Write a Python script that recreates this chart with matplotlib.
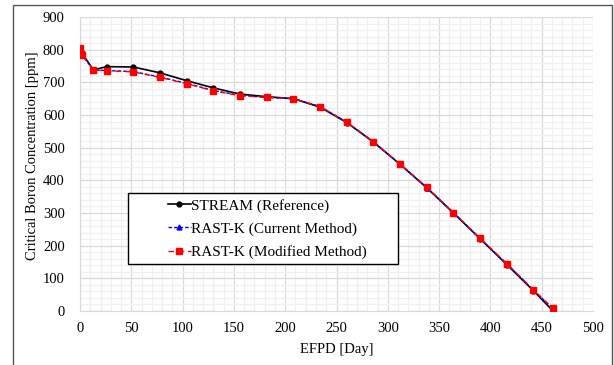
import numpy as np
import matplotlib.pyplot as plt
from matplotlib.patches import Rectangle
from matplotlib.ticker import MultipleLocator

plt.rcParams['font.family'] = ['Liberation Serif', 'DejaVu Serif']

# EFPD [day]
efpd = [0, 2, 13, 26, 52, 78, 104, 130, 156, 182, 208, 234, 260, 286, 312,
        338, 364, 390, 416, 442, 461]

# critical boron [ppm]
stream = [806, 789, 738, 748, 747, 729, 705, 683, 664, 656, 650, 624, 577,
          517, 449, 377, 300, 221, 142, 62, 0]
rast_current = [804, 784, 738, 736, 733, 716, 697, 675, 660, 654, 650, 626,
                578, 518, 449, 378, 301, 222, 144, 64, 6]
rast_modified = [806, 784, 738, 735, 732, 715, 696, 674, 659, 654, 650, 626,
                 578, 518, 450, 379, 301, 223, 145, 65, 8]

W, H = 614, 365
fig = plt.figure(figsize=(W / 100, H / 100), dpi=100)
ax = fig.add_axes([80 / W, (H - 311) / H, 513 / W, 294 / H])

ax.plot(efpd, stream, '-', color='black', lw=1.2, marker='o', ms=3.5,
        label='STREAM (Reference)', zorder=3)
ax.plot(efpd, rast_current, '--', color='blue', lw=1.0, marker='^', ms=3.5,
        dashes=(2.5, 1.5), label='RAST-K (Current Method)', zorder=4)
ax.plot(efpd, rast_modified, '--', color='red', lw=1.0, marker='s', ms=5,
        dashes=(4, 3), label='RAST-K (Modified Method)', zorder=5)

ax.set_xlim(0, 500)
ax.set_ylim(0, 900)
ax.xaxis.set_major_locator(MultipleLocator(50))
ax.xaxis.set_minor_locator(MultipleLocator(10))
ax.yaxis.set_major_locator(MultipleLocator(100))
ax.yaxis.set_minor_locator(MultipleLocator(20))
ax.grid(which='major', color='#d9d9d9', lw=0.9)
ax.grid(which='minor', color='#f0f0f0', lw=0.9)
ax.set_axisbelow(True)
ax.tick_params(which='both', length=0, labelsize=10.5)
ax.tick_params(axis='x', pad=8)
ax.tick_params(axis='y', pad=11)
for s in ['top', 'right']:
    ax.spines[s].set_visible(False)
for s in ['left', 'bottom']:
    ax.spines[s].set_color('#d9d9d9')

ax.set_xlabel('EFPD [Day]', fontsize=10.5, labelpad=6)
ax.set_ylabel('Critical Boron Concentration [ppm]', fontsize=10.5)
ax.yaxis.set_label_coords((39 - 80) / 513, (311 - 156) / 294)

# legend box drawn separately, wider than its contents
ax.add_patch(Rectangle(((128 - 80) / 513, (311 - 264) / 294), 270 / 513, 71 / 294,
                       transform=ax.transAxes, facecolor='white',
                       edgecolor='black', lw=1.0, zorder=6))
leg = ax.legend(loc='upper left', bbox_to_anchor=((163 - 80) / 513, (311 - 194) / 294),
                fontsize=11, frameon=False, handlelength=1.5, borderpad=0.3,
                labelspacing=0.62, handletextpad=0.05, borderaxespad=0)
leg.set_zorder(7)

fig.patches.append(Rectangle((12.5 / W, -0.05), (611.5 - 12.5) / W, 1.05 - 5 / H,
                             transform=fig.transFigure, fill=False,
                             edgecolor='#555555', lw=1.0))

fig.savefig('out.png', dpi=100)
